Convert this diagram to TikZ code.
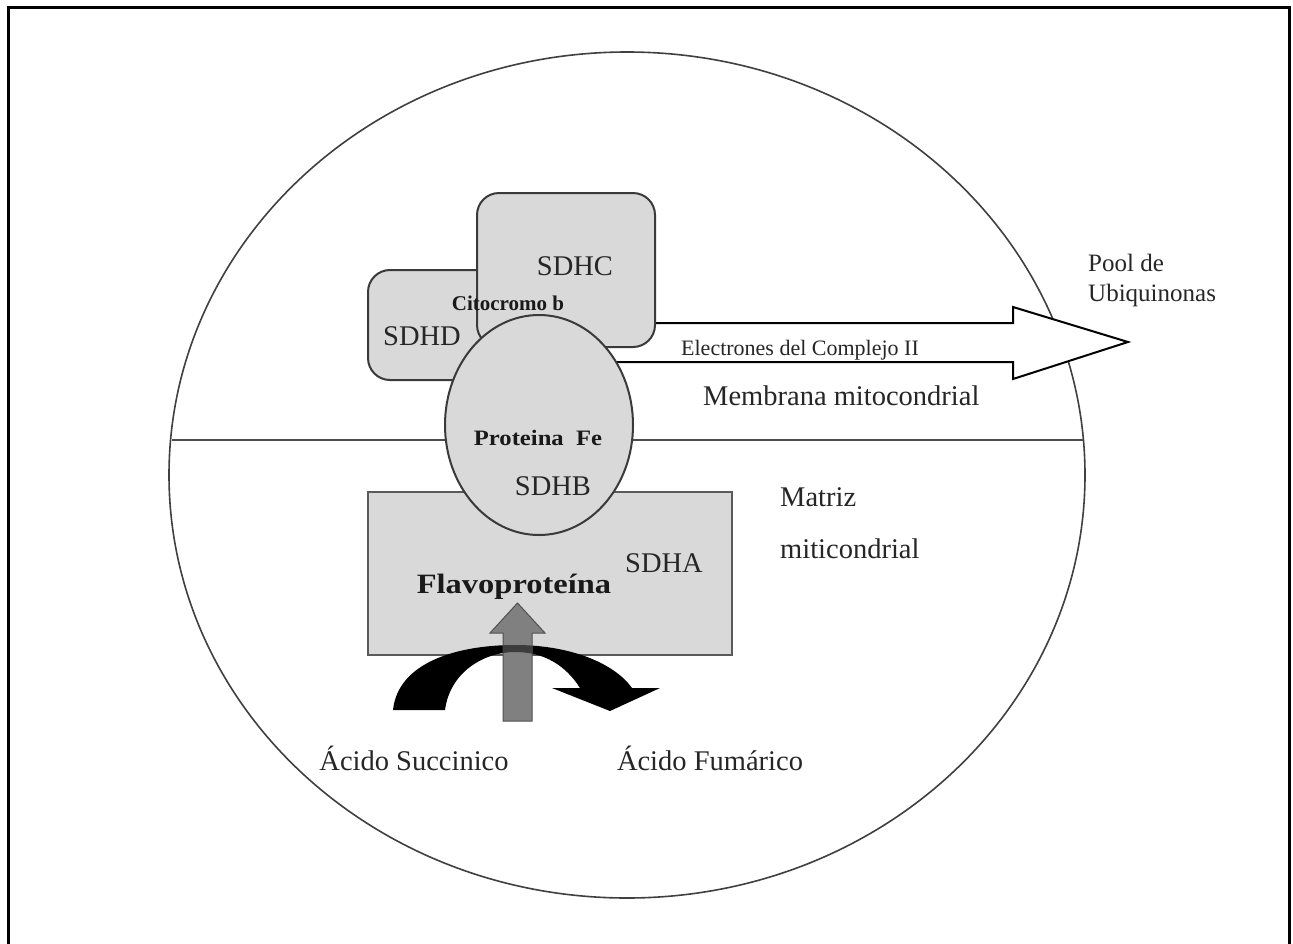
\documentclass[tikz,border=0pt]{standalone}
\usepackage{fontspec}
\setmainfont{Liberation Serif}
\usetikzlibrary{shapes.geometric}
\definecolor{boxfill}{HTML}{D9D9D9}
\definecolor{boxline}{HTML}{3A3A3A}
\definecolor{rectline}{HTML}{5A5A5A}
\definecolor{grayarrow}{HTML}{808080}
\definecolor{grayarrowline}{HTML}{505050}
\definecolor{crossgray}{HTML}{3C3C3C}
\begin{document}
\begin{tikzpicture}[x=1pt,y=-1pt,
  rbox/.style={draw=boxline, fill=boxfill, line width=2pt, rounded corners=22pt, inner sep=0},
  sqbox/.style={draw=rectline, fill=boxfill, line width=2pt, inner sep=0},
  oval/.style={ellipse, draw=boxline, fill=boxfill, line width=2pt, inner sep=0},
  lbl/.style={font=\fontsize{28.5pt}{30pt}\selectfont, anchor=base, inner sep=0, text=black!85},
  lbll/.style={lbl, anchor=base west},
  small/.style={font=\fontsize{25pt}{27pt}\selectfont, anchor=base west, inner sep=0, text=black!85},
  tiny/.style={font=\fontsize{22pt}{24pt}\selectfont, anchor=base, inner sep=0, text=black!85},
  boldlbl/.style={font=\bfseries\fontsize{22pt}{24pt}\selectfont, anchor=base, inner sep=0, text=black!90}
]
\clip (0,0) rectangle (1293,943);
\fill[white] (0,0) rectangle (1293,943);
% outer frame
\draw[line width=3pt] (8,980) -- (8,7) -- (1289,7) -- (1289,980);
% mitochondrion outline
\node[ellipse, draw=black!75, line width=1.6pt, minimum width=916pt, minimum height=846pt, inner sep=0] (mito) at (627,475) {};
% membrane line
\coordinate (memL) at (172,440);
\coordinate (memR) at (1083,440);
\draw[draw=black!70, line width=2.2pt] (memL) -- (memR);
% hollow arrow (electrons)
\draw[line width=2pt, fill=white] (600,323) -- (1013,323) -- (1013,307) -- (1128,342) -- (1013,379) -- (1013,362) -- (600,362) -- cycle;
% subunits
\node[rbox, minimum width=140pt, minimum height=110pt] (sdhd) at (438,325) {};
\node[rbox, minimum width=178pt, minimum height=154pt] (sdhc) at (566,270) {};
\node[sqbox, minimum width=364pt, minimum height=163pt] (sdha) at (550,573.5) {};
\node[oval, minimum width=188pt, minimum height=220pt] (sdhb) at (539,425) {};
% black curved arrow
\fill[black] (393,710) .. controls (398,662) and (458,645) .. (515,645)
  .. controls (572,645) and (615,664) .. (632,688) -- (660,688) -- (610,711) -- (552,688) -- (580,688)
  .. controls (566,666) and (545,652) .. (515,652)
  .. controls (484,652) and (450,672) .. (445,710) -- cycle;
% gray up arrow
\draw[fill=grayarrow, draw=grayarrowline, line width=1pt] (503,721) -- (503,633) -- (490,633) -- (517.5,603) -- (545,633) -- (532,633) -- (532,721) -- cycle;
\begin{scope}
\clip (393,710) .. controls (398,662) and (458,645) .. (515,645)
  .. controls (572,645) and (615,664) .. (632,688) -- (660,688) -- (610,711) -- (552,688) -- (580,688)
  .. controls (566,666) and (545,652) .. (515,652)
  .. controls (484,652) and (450,672) .. (445,710) -- cycle;
\fill[crossgray] (503,721) -- (503,633) -- (532,633) -- (532,721) -- cycle;
\end{scope}
% labels
\node[lbl] (tsdhc) at (575,275) {SDHC};
\node[lbl] (tsdhd) at (422,345) {SDHD};
\node[boldlbl, font=\bfseries\fontsize{21pt}{23pt}\selectfont] (tcito) at (508,310) {Citocromo b};
\node[boldlbl] (tfe) at (538,445) {\scalebox{1.12}[1]{Proteina\ \ Fe}};
\node[lbl] (tsdhb) at (553,495) {SDHB};
\node[lbl] (tsdha) at (664,572) {SDHA};
\node[boldlbl, font=\bfseries\fontsize{28pt}{30pt}\selectfont] (tflavo) at (514,593) {\scalebox{1.16}[1]{Flavoproteína}};
\node[tiny] (telec) at (800,355) {Electrones del Complejo II};
\node[small] (tpool) at (1088,271) {Pool de};
\node[small] (tubi) at (1088,301) {Ubiquinonas};
\node[lbll] (tmemb) at (703,405) {Membrana mitocondrial};
\node[lbll] (tmat1) at (780,506) {Matriz};
\node[lbll] (tmat2) at (780,558) {miticondrial};
\node[lbl] (tsucc) at (414,770) {Ácido Succinico};
\node[lbl] (tfum) at (710,770) {Ácido Fumárico};
\end{tikzpicture}
\end{document}
